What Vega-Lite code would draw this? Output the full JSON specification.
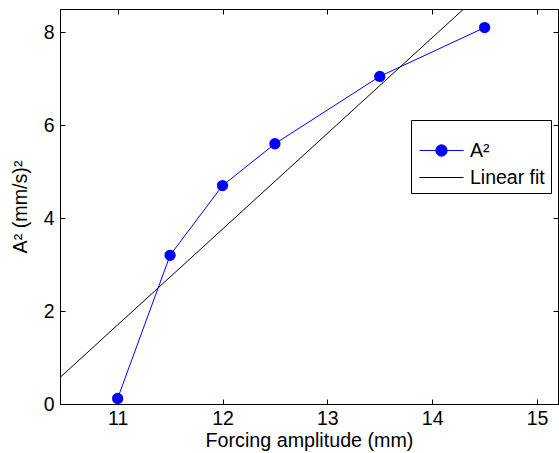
{
  "$schema": "https://vega.github.io/schema/vega-lite/v6.json",
  "width": 498,
  "height": 395,
  "autosize": {"type": "none"},
  "padding": {"left": 60, "top": 9, "right": 1, "bottom": 49},
  "background": "white",
  "config": {
    "view": {"stroke": "black", "strokeWidth": 1},
    "font": "Liberation Sans",
    "axis": {
      "domainColor": "black",
      "tickColor": "black",
      "labelColor": "black",
      "titleColor": "black",
      "labelFont": "Liberation Sans",
      "titleFont": "Liberation Sans",
      "labelFontSize": 19.5,
      "titleFontSize": 19.7,
      "titleFontWeight": "normal",
      "grid": false,
      "tickSize": -5
    }
  },
  "data": {
    "values": [
      {"x": 11, "y": 0.12, "series": "A²"},
      {"x": 11.5, "y": 3.2, "series": "A²"},
      {"x": 12, "y": 4.7, "series": "A²"},
      {"x": 12.5, "y": 5.6, "series": "A²"},
      {"x": 13.5, "y": 7.05, "series": "A²"},
      {"x": 14.5, "y": 8.1, "series": "A²"},
      {"x": 10.45, "y": 0.57, "series": "Linear fit"},
      {"x": 14.3, "y": 8.5, "series": "Linear fit"}
    ]
  },
  "resolve": {"axis": {"x": "independent", "y": "independent"}},
  "layer": [
    {
      "mark": {"type": "line", "strokeWidth": 1, "clip": true},
      "encoding": {
        "x": {
          "field": "x", "type": "quantitative",
          "scale": {"domain": [10.45, 15.2], "nice": false, "zero": false},
          "axis": {"orient": "bottom", "title": "Forcing amplitude (mm)", "values": [11, 12, 13, 14, 15], "labelPadding": 10, "titlePadding": 3}
        },
        "y": {
          "field": "y", "type": "quantitative",
          "scale": {"domain": [0, 8.5], "nice": false},
          "axis": {"orient": "left", "title": "A² (mm/s)²", "values": [0, 2, 4, 6, 8], "labelPadding": 11, "titlePadding": 13}
        },
        "color": {
          "field": "series", "type": "nominal",
          "scale": {"domain": ["A²", "Linear fit"], "range": ["#0000ff", "#000000"]},
          "legend": {
            "orient": "none", "legendX": 351, "legendY": 111,
            "title": " ",
            "titleFontSize": 10,
            "titlePadding": 4,
            "strokeColor": "black", "fillColor": "white",
            "padding": 6,
            "symbolSize": 400,
            "symbolOffset": 14,
            "symbolStrokeWidth": 1,
            "labelFont": "Liberation Sans", "labelFontSize": 19.5, "labelColor": "black",
            "labelOffset": 18,
            "rowPadding": 7,
            "encode": {
              "symbols": {
                "update": {
                  "shape": {"signal": "datum.value === 'A²' ? 'M-2.2,0L2.2,0M-0.565,0A0.565,0.565,0,1,1,0.565,0A0.565,0.565,0,1,1,-0.565,0Z' : 'M-2.2,0L2.2,0'"},
                  "fill": {"signal": "datum.value === 'A²' ? '#0000ff' : 'transparent'"}
                }
              }
            }
          }
        },
        "order": {"field": "x"}
      }
    },
    {
      "transform": [{"filter": "datum.series === 'A²'"}],
      "mark": {"type": "point", "filled": true, "size": 128, "opacity": 1, "color": "#0000ff"},
      "encoding": {
        "x": {"field": "x", "type": "quantitative", "axis": {"orient": "top", "labels": false, "title": null, "values": [11, 12, 13, 14, 15]}},
        "y": {"field": "y", "type": "quantitative", "axis": {"orient": "right", "labels": false, "title": null, "values": [0, 2, 4, 6, 8]}}
      }
    }
  ]
}
